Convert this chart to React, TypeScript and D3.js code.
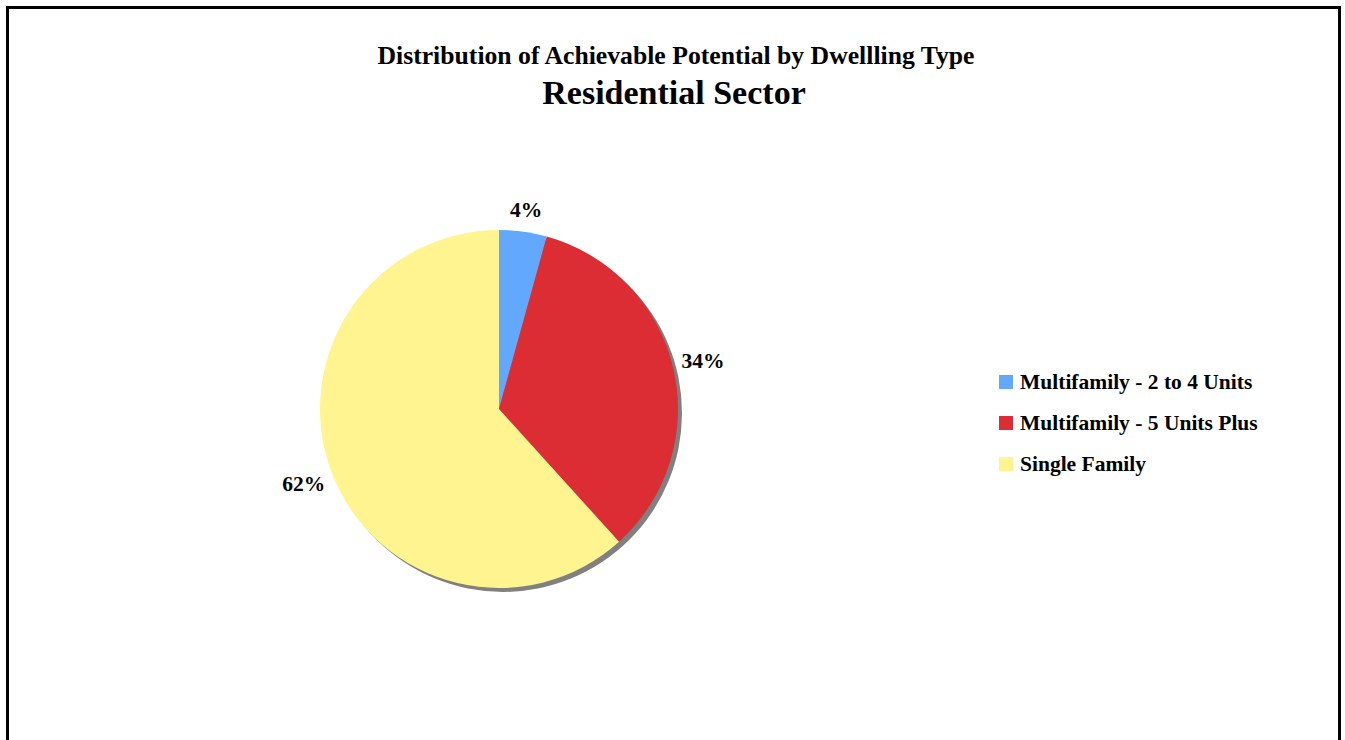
import React from "react";
import * as d3 from "d3";

const categories = ["Multifamily - 2 to 4 Units", "Multifamily - 5 Units Plus", "Single Family"];
const values = [4.3, 34.0, 61.7];
const colors = ["#63A8FF", "#DC2D34", "#FFF48F"];

const W = 1345;
const H = 740;

export default function App() {
  const cx = 499;
  const cy = 409;
  const r = 179;
  const total = d3.sum(values);
  const pie = d3.pie<number>().sort(null).value((d) => d)(values);
  const arc = d3.arc<d3.PieArcDatum<number>>().innerRadius(0).outerRadius(r);
  const font = "'Liberation Serif', 'Times New Roman', serif";

  return (
    <svg width={W} height={H} style={{ position: "absolute", left: 0, top: 0, background: "#fff" }}>
      <rect x={7.5} y={7.5} width={1332} height={800} fill="#fff" stroke="#000" strokeWidth={3} />
      <text x={676} y={64} textAnchor="middle" fontFamily={font} fontWeight="bold" fontSize={25.7}>
        Distribution of Achievable Potential by Dwellling Type
      </text>
      <text x={674} y={104} textAnchor="middle" fontFamily={font} fontWeight="bold" fontSize={34}>
        Residential Sector
      </text>
      <circle cx={cx + 4} cy={cy + 4} r={r} fill="#808080" />
      <g transform={`translate(${cx},${cy})`}>
        {pie.map((p, i) => (
          <path key={i} d={arc(p) || ""} fill={colors[i]} />
        ))}
        {pie.map((p, i) => {
          const a = (p.startAngle + p.endAngle) / 2;
          const R = 199 + Math.abs(Math.sin(a)) * 11;
          const x = R * Math.sin(a);
          const y = -R * Math.cos(a);
          return (
            <text key={i} x={x} y={y} textAnchor="middle" dominantBaseline="central"
              fontFamily={font} fontWeight="bold" fontSize={21.5}>
              {`${Math.round((values[i] / total) * 100)}%`}
            </text>
          );
        })}
      </g>
      {categories.map((c, i) => (
        <g key={c} transform={`translate(999,${382 + i * 41})`}>
          <rect x={0} y={-7} width={14} height={14} fill={colors[i]} />
          <text x={21} y={0} dominantBaseline="central" fontFamily={font} fontWeight="bold" fontSize={21.5}>
            {c}
          </text>
        </g>
      ))}
    </svg>
  );
}
